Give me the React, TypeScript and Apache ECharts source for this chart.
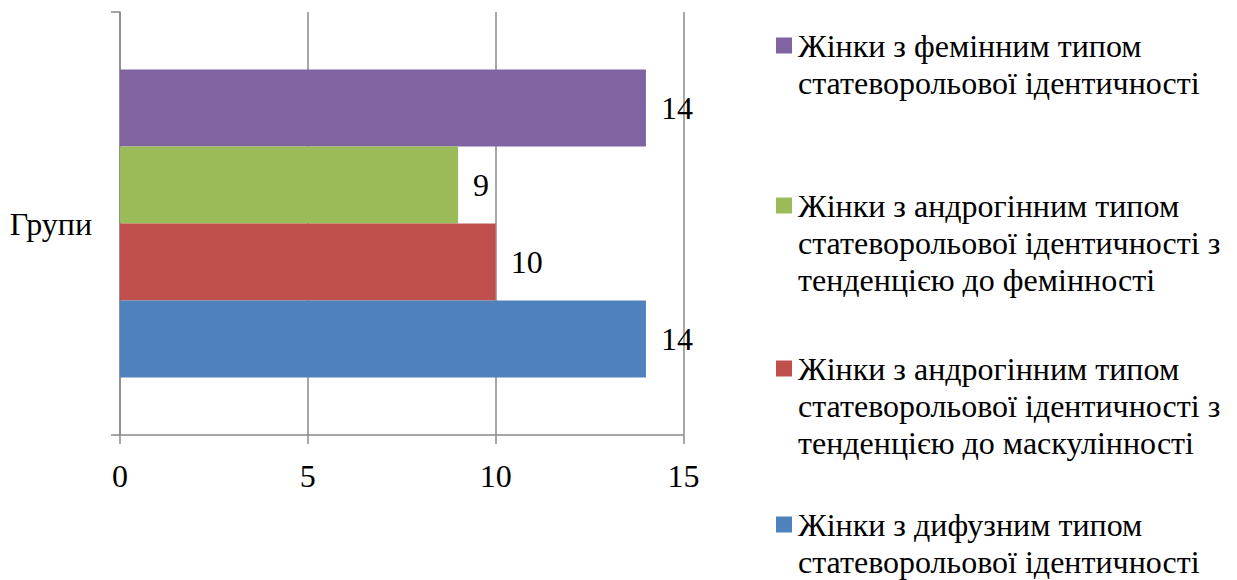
import React, { useEffect, useRef } from 'react';
import * as echarts from 'echarts';

const categories = ['Групи'];
// series listed top to bottom as drawn
const seriesNames = [
  'Жінки з фемінним типом статеворольової ідентичності',
  'Жінки з андрогінним типом статеворольової ідентичності з тенденцією до фемінності',
  'Жінки з андрогінним типом статеворольової ідентичності з тенденцією до маскулінності',
  'Жінки з дифузним типом статеворольової ідентичності',
];
const seriesValues = [14, 9, 10, 14];
const seriesColors = ['#8064A2', '#9BBB59', '#C0504D', '#4F81BD'];
const legendLines = [
  ['Жінки з фемінним типом', 'статеворольової ідентичності'],
  ['Жінки з андрогінним типом', 'статеворольової ідентичності з', 'тенденцією до фемінності'],
  ['Жінки з андрогінним типом', 'статеворольової ідентичності з', 'тенденцією до маскулінності'],
  ['Жінки з дифузним типом', 'статеворольової ідентичності'],
];
const legendIconCenters = [45, 205, 368, 524];
const xMin = 0;
const xMax = 15;
const xInterval = 5;

const FONT = 'Liberation Serif';
const GRAY = '#8a8a8a';
const LINE_H = 37;

export default function App() {
  const ref = useRef<HTMLDivElement>(null);
  useEffect(() => {
    const chart = echarts.init(ref.current as HTMLDivElement, null, { renderer: 'svg' });
    const legends = seriesNames.map((name, i) => {
      const n = legendLines[i].length;
      return {
        data: [name],
        left: 776,
        top: legendIconCenters[i] - (n - 1) * LINE_H - 18,
        orient: 'vertical',
        padding: 0,
        itemWidth: 16,
        itemHeight: 16,
        icon: 'rect',
        selectedMode: false,
        formatter: () => '\n'.repeat(n - 1) + legendLines[i].join('\n'),
        textStyle: {
          fontFamily: FONT,
          fontSize: 32,
          color: '#000',
          lineHeight: LINE_H,
          padding: [0, 0, 0, 1],
        },
      };
    });
    chart.setOption({
      animation: false,
      backgroundColor: '#fff',
      textStyle: { fontFamily: FONT },
      grid: {
        left: 120,
        right: 553.5,
        top: 12,
        bottom: 145,
        containLabel: false,
        outerBoundsMode: 'none',
      },
      legend: legends,
      xAxis: {
        type: 'value',
        min: xMin,
        max: xMax,
        interval: xInterval,
        axisLine: { show: true, lineStyle: { color: GRAY, width: 1.5 } },
        axisTick: { show: true, length: 9, lineStyle: { color: GRAY, width: 1.5 } },
        splitLine: { show: true, lineStyle: { color: GRAY, width: 1.5 } },
        axisLabel: { margin: 25, fontFamily: FONT, fontSize: 32, color: '#000' },
      },
      yAxis: {
        type: 'category',
        data: categories,
        inverse: true,
        axisLine: { show: true, lineStyle: { color: GRAY, width: 1.5 } },
        axisTick: { show: true, length: 9, lineStyle: { color: GRAY, width: 1.5 } },
        axisLabel: { margin: 28, fontFamily: FONT, fontSize: 32, color: '#000' },
      },
      series: seriesNames.map((name, i) => ({
        type: 'bar',
        name,
        data: [seriesValues[i]],
        barWidth: 77,
        barGap: '0%',
        itemStyle: { color: seriesColors[i] },
        label: {
          show: true,
          position: 'right',
          distance: 15,
          fontFamily: FONT,
          fontSize: 32,
          color: '#000',
        },
      })),
    });
    return () => chart.dispose();
  }, []);
  return (
    <div
      ref={ref}
      style={{ position: 'absolute', left: 0, top: 0, width: 1237, height: 580 }}
    />
  );
}
